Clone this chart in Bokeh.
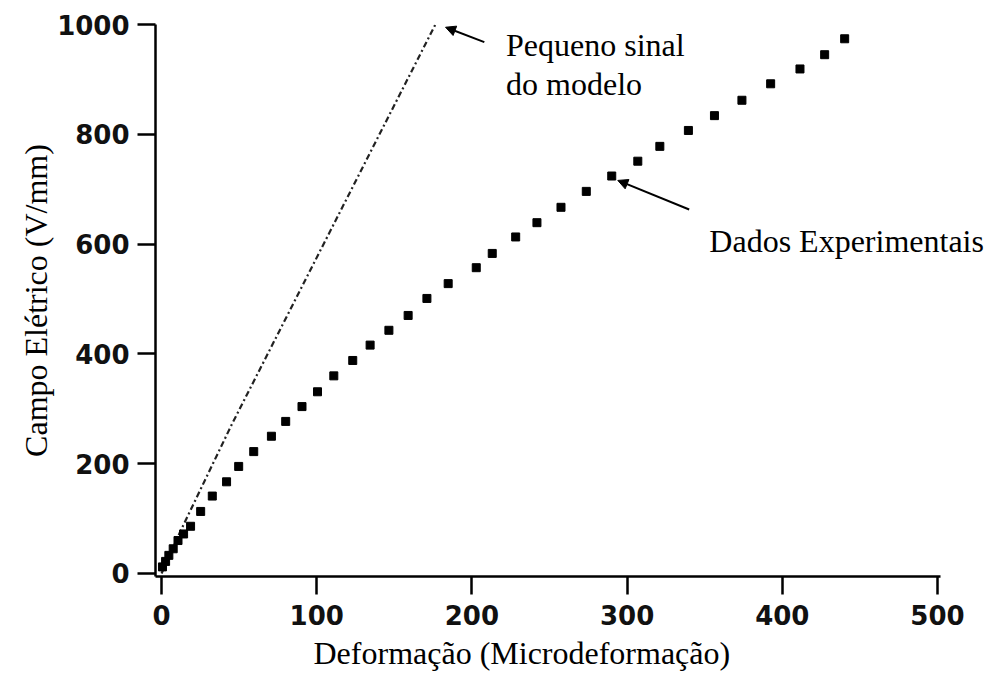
from bokeh.plotting import figure
from bokeh.models import Range1d, FixedTicker, Arrow, NormalHead, ColumnDataSource, Label, Title
from bokeh.embed import file_html
from bokeh.resources import INLINE

# Experimental data (strain in microstrain, field in V/mm)
strain = [0.6, 2.6, 4.7, 7.5, 10.6, 14.2, 18.7, 25.2, 32.7, 41.9, 49.7, 59.4, 70.8,
          80.0, 90.5, 100.5, 111.0, 123.2, 134.4, 146.5, 158.9, 171.0, 184.7, 202.8,
          213.1, 228.2, 241.9, 257.4, 273.7, 290.1, 306.9, 321.1, 339.5, 356.3, 374.0,
          392.5, 411.4, 427.3, 440.2]
field = [12, 22, 33, 45, 60, 72, 86, 113, 141, 167, 195, 222, 250,
         277, 304, 331, 360, 388, 416, 443, 470, 501, 528, 557,
         583, 613, 639, 667, 696, 724, 751, 778, 807, 834, 862,
         892, 919, 945, 974]

# Small-signal model line
model_strain = [0, 12, 45, 177]
model_field = [0, 76, 270, 1003]

x_ticks = [0, 100, 200, 300, 400, 500]
y_ticks = [0, 200, 400, 600, 800, 1000]

x_label = "Deformação (Microdeformação)"
y_label = "Campo Elétrico (V/mm)"

annot_text = ["Pequeno sinal", "do modelo", "Dados Experimentais"]
annot_x = [222, 222, 353]
annot_y = [962, 892, 605]

arrow_x_start = [208, 340]
arrow_y_start = [968, 663]
arrow_x_end = [183, 294]
arrow_y_end = [995, 716]

serif = "Liberation Serif"
sans = "DejaVu Sans"

p = figure(width=986, height=676, output_backend="svg", toolbar_location=None,
           x_range=Range1d(-3.9, 531.6), y_range=Range1d(-5.5, 1000))
p.min_border_left = 155
p.min_border_right = 0
p.min_border_top = 24
p.min_border_bottom = 100
p.outline_line_color = None
p.grid.visible = False
p.background_fill_color = "white"
p.border_fill_color = "white"

for ax in (p.xaxis[0], p.yaxis[0]):
    ax.axis_line_width = 2.5
    ax.axis_line_color = "black"
    ax.major_tick_line_width = 2.5
    ax.major_tick_line_color = "black"
    ax.major_tick_in = 0
    ax.minor_tick_line_color = None
    ax.major_label_text_font = sans
    ax.major_label_text_font_style = "bold"
    ax.major_label_text_font_size = "26px"
    ax.major_label_text_color = "#111111"
    ax.axis_label_text_font = serif
    ax.axis_label_text_font_style = "normal"
    ax.axis_label_text_font_size = "32px"
    ax.axis_label_text_color = "black"

p.xaxis.bounds = (-3.9, 502)
p.xaxis.ticker = FixedTicker(ticks=x_ticks)
p.yaxis.ticker = FixedTicker(ticks=y_ticks)
p.xaxis.major_tick_out = 18
p.yaxis.major_tick_out = 18
p.xaxis.major_label_standoff = 10
p.yaxis.major_label_standoff = 8
p.yaxis.axis_label = y_label
p.yaxis.axis_label_standoff = 0

# x-axis caption placed under the axis, centred under the 0..500 span
p.add_layout(Title(text=x_label, align="left", offset=158, standoff=10,
                   text_font=serif, text_font_size="32px",
                   text_font_style="normal", text_color="black"), "below")

# model line
p.line(model_strain, model_field, line_color="#222222", line_width=2.2,
       line_dash="6 3 2 3")

# experimental squares
p.scatter(strain, field, marker="square", size=8, fill_color="black",
          line_color="black")

# annotation texts
for t, x, y in zip(annot_text, annot_x, annot_y):
    p.add_layout(Label(x=x, y=y, text=t, text_font=serif, text_font_size="32px",
                       text_baseline="alphabetic", text_align="left",
                       text_color="black"))

# arrows
asrc = ColumnDataSource(dict(x0=arrow_x_start, y0=arrow_y_start,
                             x1=arrow_x_end, y1=arrow_y_end))
p.add_layout(Arrow(end=NormalHead(size=10, fill_color="black", line_color="black"),
                   x_start="x0", y_start="y0", x_end="x1", y_end="y1",
                   source=asrc, line_width=2, line_color="black"))

open("out.html", "w").write(file_html(p, INLINE))
